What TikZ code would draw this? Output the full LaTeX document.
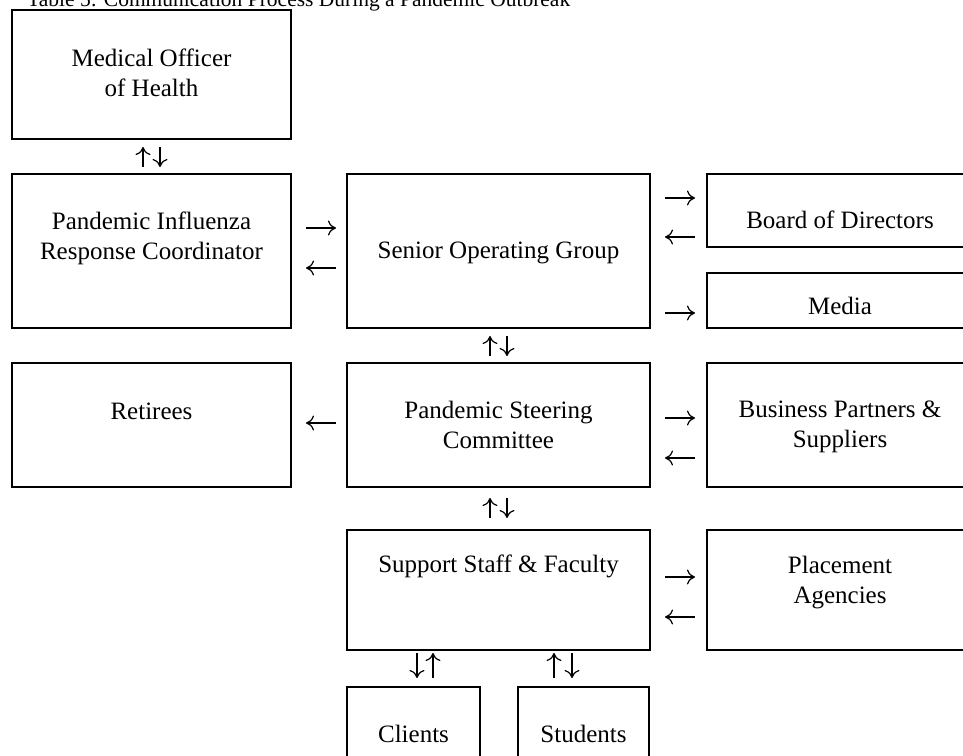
\documentclass[tikz,border=0pt]{standalone}
\usepackage{fontspec}
\setmainfont{Liberation Serif}
\usepackage{tikz}
\usetikzlibrary{arrows.meta}
\tikzstyle{box}=[draw,line width=1.8pt,inner sep=0pt,outer sep=0pt,anchor=north west]
\tikzstyle{txt}=[inner sep=0pt,anchor=north,align=center,font=\fontsize{25}{30}\selectfont]
\tikzstyle{rwhead}=[>/.tip={To[length=8pt,width=15pt]}]
\tikzstyle{rw}=[line width=1.2pt,rwhead,->]

\begin{document}
\begin{tikzpicture}[x=1pt,y=-1pt]
	\clip (0,0) rectangle (963,755);
	\node[anchor=base west,inner sep=0pt,font=\fontsize{21.5}{24}\selectfont] (title) at (27,6.5) {Table 5: Communication Process During a Pandemic Outbreak};
	% boxes
	\node[box,minimum width=279pt,minimum height=129pt] (moh) at (12,10) {};
	\node[box,minimum width=279pt,minimum height=154pt] (pirc) at (12,174) {};
	\node[box,minimum width=303pt,minimum height=154pt] (sog) at (347,174) {};
	\node[box,minimum width=266pt,minimum height=73pt] (board) at (707,174) {};
	\node[box,minimum width=266pt,minimum height=55pt] (media) at (707,273) {};
	\node[box,minimum width=279pt,minimum height=124pt] (ret) at (12,363) {};
	\node[box,minimum width=303pt,minimum height=124pt] (psc) at (347,363) {};
	\node[box,minimum width=266pt,minimum height=124pt] (bus) at (707,363) {};
	\node[box,minimum width=303pt,minimum height=120pt] (sup) at (347,530) {};
	\node[box,minimum width=266pt,minimum height=120pt] (plc) at (707,530) {};
	\node[box,minimum width=133pt,minimum height=100pt] (cli) at (347,687) {};
	\node[box,minimum width=131pt,minimum height=100pt] (stu) at (518,687) {};
	% texts
	\node[txt] (moh-t) at ([yshift=-39pt]moh.north) {Medical Officer\\of Health};
	\node[txt] (pirc-t) at ([yshift=-38pt]pirc.north) {Pandemic Influenza\\Response Coordinator};
	\node[txt] (sog-t) at ([yshift=-68pt]sog.north) {Senior Operating Group};
	\node[txt] (board-t) at ([yshift=-37pt]board.north) {Board of Directors};
	\node[txt] (media-t) at ([yshift=-24pt]media.north) {Media};
	\node[txt] (ret-t) at ([yshift=-40pt]ret.north) {Retirees};
	\node[txt] (psc-t) at ([yshift=-38pt]psc.north) {Pandemic Steering\\Committee};
	\node[txt] (bus-t) at ([yshift=-38pt]bus.north) {Business Partners \&\\Suppliers};
	\node[txt] (sup-t) at ([yshift=-25pt]sup.north) {Support Staff \& Faculty};
	\node[txt] (plc-t) at ([yshift=-26pt]plc.north) {Placement\\Agencies};
	\node[txt] (cli-t) at ([yshift=-38pt]cli.north) {Clients};
	\node[txt] (stu-t) at ([yshift=-38pt]stu.north) {Students};
	% vertical arrows
	\draw[rw,shorten <=7pt,shorten >=8pt] ([xshift=-8.5pt]pirc.north) -- ([xshift=-8.5pt]moh.south);
	\draw[rw,shorten <=8pt,shorten >=7pt] ([xshift=8.5pt]moh.south) -- ([xshift=8.5pt]pirc.north);
	\draw[rw,shorten <=7pt,shorten >=8pt] ([xshift=-8.5pt]psc.north) -- ([xshift=-8.5pt]sog.south);
	\draw[rw,shorten <=8pt,shorten >=7pt] ([xshift=8.5pt]sog.south) -- ([xshift=8.5pt]psc.north);
	\draw[rw,shorten <=12pt,shorten >=11pt] ([xshift=-8.5pt]sup.north) -- ([xshift=-8.5pt]psc.south);
	\draw[rw,shorten <=11pt,shorten >=12pt] ([xshift=8.5pt]psc.south) -- ([xshift=8.5pt]sup.north);
	\draw[rw,shorten <=3pt,shorten >=9pt] ([xshift=-81.5pt]sup.south) -- ([xshift=3.5pt]cli.north);
	\draw[rw,shorten <=9pt,shorten >=3pt] ([xshift=19.5pt]cli.north) -- ([xshift=-65.5pt]sup.south);
	\draw[rw,shorten <=9pt,shorten >=3pt] ([xshift=-29.5pt]stu.north) -- ([xshift=55.5pt]sup.south);
	\draw[rw,shorten <=3pt,shorten >=9pt] ([xshift=73.5pt]sup.south) -- ([xshift=-11.5pt]stu.north);
	% horizontal arrows
	\draw[rw,shorten <=15pt,shorten >=11pt] ([yshift=23pt]pirc.east) -- ([yshift=23pt]sog.west);
	\draw[rw,shorten <=11pt,shorten >=15pt] ([yshift=-17pt]sog.west) -- ([yshift=-17pt]pirc.east);
	\draw[rw,shorten <=15pt,shorten >=12pt] ([yshift=53pt]sog.east) -- ([yshift=12.5pt]board.west);
	\draw[rw,shorten <=12pt,shorten >=15pt] ([yshift=-26.5pt]board.west) -- ([yshift=14pt]sog.east);
	\draw[rw,shorten <=15pt,shorten >=12pt] ([yshift=-62pt]sog.east) -- ([yshift=-12.5pt]media.west);
	\draw[rw,shorten <=11pt,shorten >=15pt] ([yshift=2pt]psc.west) -- ([yshift=2pt]ret.east);
	\draw[rw,shorten <=15pt,shorten >=12pt] ([yshift=7pt]psc.east) -- ([yshift=7pt]bus.west);
	\draw[rw,shorten <=12pt,shorten >=15pt] ([yshift=-33pt]bus.west) -- ([yshift=-33pt]psc.east);
	\draw[rw,shorten <=15pt,shorten >=12pt] ([yshift=13pt]sup.east) -- ([yshift=13pt]plc.west);
	\draw[rw,shorten <=12pt,shorten >=15pt] ([yshift=-27pt]plc.west) -- ([yshift=-27pt]sup.east);
\end{tikzpicture}
\end{document}
